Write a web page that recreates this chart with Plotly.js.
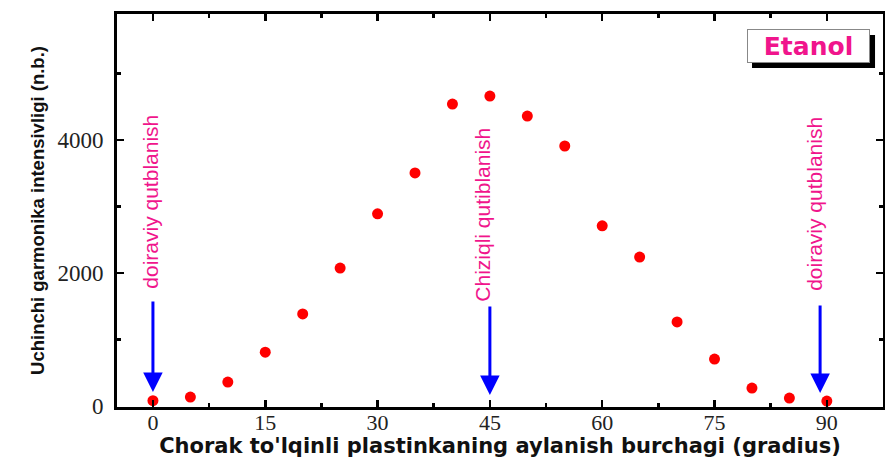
<!DOCTYPE html>
<html>
<head>
<meta charset="utf-8">
<script src="https://cdn.plot.ly/plotly-3.0.1.min.js"></script>
<style>html,body{margin:0;padding:0;background:#fff;}#chart{width:885px;height:458px;}</style>
</head>
<body>
<div id="chart"></div>
<script>
// Data
const angles = [0, 5, 10, 15, 20, 25, 30, 35, 40, 45, 50, 55, 60, 65, 70, 75, 80, 85, 90];
const intensity = [80, 135, 360, 810, 1385, 2075, 2890, 3505, 4540, 4660, 4360, 3910, 2710, 2240, 1265, 705, 270, 120, 75];

const xTickVals = [0, 15, 30, 45, 60, 75, 90];
const yTickVals = [0, 2000, 4000];

const labelTexts = ["doiraviy qutblanish", "Chiziqli qutiblanish", "doiraviy qutblanish"];
const labelX = [-0.3, 43.9, 88.4];
const labelY = [3068, 2872, 3038];
const arrowX = [0, 45, 89.1];
const arrowTailY = [1594, 1519, 1534];
const arrowTipY = [210, 165, 195];

const sampleName = "Etanol";
const xTitle = "Chorak to'lqinli plastinkaning aylanish burchagi (gradius)";
const yTitle = "Uchinchi garmonika intensivligi (n.b.)";

const pink = '#f0158c';
const narrow = 'Liberation Sans Narrow, Liberation Sans, Arial, sans-serif';
const serif = 'Liberation Serif, Times New Roman, serif';
const bold = 'DejaVu Sans, Liberation Sans, Arial, sans-serif';

const trace = {
  x: angles, y: intensity, type: 'scatter', mode: 'markers',
  marker: {color: '#ff0000', size: 11, line: {width: 0}},
  hoverinfo: 'skip', showlegend: false
};

const annotations = [];
for (let i = 0; i < arrowX.length; i++) {
  annotations.push({
    x: arrowX[i], y: arrowTipY[i], ax: arrowX[i], ay: arrowTailY[i],
    xref: 'x', yref: 'y', axref: 'x', ayref: 'y',
    text: '', showarrow: true, arrowhead: 2, arrowsize: 1.3, arrowwidth: 3,
    arrowcolor: '#0000ff'
  });
  annotations.push({
    x: labelX[i], y: labelY[i], xref: 'x', yref: 'y',
    text: labelTexts[i], showarrow: false, textangle: -90,
    font: {family: narrow, size: 21, color: pink, stretch: 'condensed'}
  });
}
annotations.push({
  x: 0.9027, y: 0.9186, xref: 'paper', yref: 'paper', xanchor: 'center', yanchor: 'middle',
  text: '<b>' + sampleName + '</b>', showarrow: false,
  width: 119, height: 30, borderpad: 1, borderwidth: 1, bordercolor: '#888888', bgcolor: '#ffffff',
  font: {family: bold, size: 25, color: pink}
});

const axisCommon = {
  showline: true, linecolor: '#000', linewidth: 3, mirror: 'allticks',
  ticks: 'inside', tickcolor: '#000', tickwidth: 2.5, ticklen: 7,
  showgrid: false, zeroline: false,
  tickfont: {family: serif, size: 23, color: '#222'}
};

const layout = {
  width: 885, height: 458,
  margin: {l: 117, r: 2, t: 14, b: 51},
  paper_bgcolor: '#fff', plot_bgcolor: '#fff',
  showlegend: false,
  xaxis: Object.assign({}, axisCommon, {
    range: [-4.8, 97.5], tickvals: xTickVals, ticklabelstandoff: -6,
    tickfont: {family: serif, size: 22, color: '#222'},
    minor: {dtick: 7.5, tick0: 0, ticks: 'inside', ticklen: 4, tickwidth: 2.5, tickcolor: '#000'},
    title: {text: xTitle, standoff: 10, font: {family: bold, size: 21, color: '#111', weight: 'bold'}}
  }),
  yaxis: Object.assign({}, axisCommon, {
    range: [-15, 5895], tickvals: yTickVals, ticklabelstandoff: 6,
    minor: {dtick: 1000, tick0: 0, ticks: 'inside', ticklen: 4, tickwidth: 2.5, tickcolor: '#000'},
    title: {text: yTitle, standoff: 8, font: {family: narrow, size: 18.5, color: '#111', weight: 'bold', stretch: 'condensed'}}
  }),
  shapes: [{
    type: 'rect', xref: 'paper', yref: 'paper', layer: 'above',
    x0: 0.829, x1: 0.9896, y0: 0.8626, y1: 0.9466,
    fillcolor: '#000', line: {width: 0}
  }],
  annotations: annotations
};

Plotly.newPlot('chart', [trace], layout, {staticPlot: true, displayModeBar: false});
</script>
</body>
</html>
